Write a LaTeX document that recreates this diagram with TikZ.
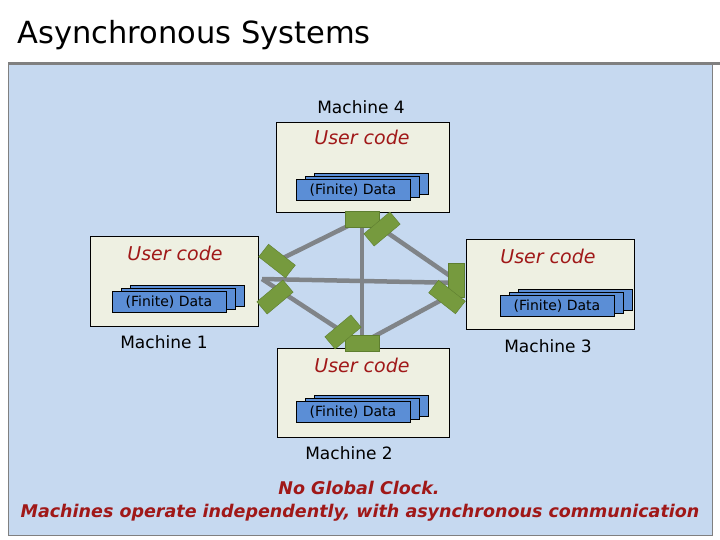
\documentclass[tikz,border=0pt]{standalone}
\usepackage{fontspec}
\setmainfont{DejaVu Sans}
\begin{document}
\begin{tikzpicture}[x=1pt,y=-1pt,
  mbox/.style={draw=black,fill=boxbg,line width=0.8pt},
  ucode/.style={text=ucred,font=\fontsize{19}{22}\selectfont\itshape},
  mlabel/.style={font=\fontsize{17}{20}\selectfont},
  dat/.style={draw=black,fill=datblue,line width=0.8pt,minimum width=114pt,minimum height=21pt,inner sep=0pt},
  port/.style={draw=portdk,fill=portgr,minimum width=34pt,minimum height=16pt,inner sep=0pt},
  link/.style={draw=linkgr,line width=4.5pt}]
\definecolor{panel}{HTML}{C6D9F0}
\definecolor{boxbg}{HTML}{EEF0E2}
\definecolor{ucred}{HTML}{A01818}
\definecolor{datblue}{HTML}{5B8ED6}
\definecolor{portgr}{HTML}{769A3E}
\definecolor{portdk}{HTML}{5E7E30}
\definecolor{linkgr}{HTML}{808488}
\useasboundingbox (0,0) rectangle (720,540);
\fill[white] (0,0) rectangle (720,540);
\node[anchor=west,font=\fontsize{30.5}{34}\selectfont] (title) at (14,35) {Asynchronous Systems};
\fill[panel] (8,65) rectangle (712,535);
\draw[gray,line width=3pt] (8,64) -- (720,64);
\draw[gray,line width=1pt] (8,65) rectangle (712,535);

% machine boxes
\node[mbox,minimum width=173pt,minimum height=90pt,inner sep=0pt] (m4) at (362.5,167) {};
\node[mbox,minimum width=168pt,minimum height=90pt,inner sep=0pt] (m1) at (174,281) {};
\node[mbox,minimum width=168pt,minimum height=90pt,inner sep=0pt] (m3) at (550,284) {};
\node[mbox,minimum width=172pt,minimum height=89pt,inner sep=0pt] (m2) at (363,393) {};

\node[mlabel] (l4) at (361,107) {Machine 4};
\node[mlabel] (l1) at (164,342) {Machine 1};
\node[mlabel] (l3) at (548,346) {Machine 3};
\node[mlabel] (l2) at (349,453) {Machine 2};

\node[ucode] (u4) at (362,137) {User code};
\node[ucode] (u1) at (175,253) {User code};
\node[ucode] (u3) at (548,256) {User code};
\node[ucode] (u2) at (362,365) {User code};

% data stacks
\foreach \n/\x/\y in {d4/353/190, d1/169/302, d3/557/306, d2/353/412}{
  \node[dat] at (\x+18,\y-6) {};
  \node[dat] at (\x+9,\y-3) {};
  \node[dat,font=\fontsize{14}{16}\selectfont] (\n) at (\x,\y) {(Finite) Data};
}

% port coordinates
\coordinate (p4a) at (362,219);
\coordinate (p4b) at (382,229);
\coordinate (p1a) at (277,261);
\coordinate (p1b) at (275,297);
\coordinate (p3a) at (456,280);
\coordinate (p3b) at (447,297);
\coordinate (p2a) at (343,332);
\coordinate (p2b) at (362,343);
\coordinate (h1) at (262,279);
\coordinate (h3) at (462,283);

\draw[link] (p4a) -- (p1a);
\draw[link] (p4a) -- (p2b);
\draw[link] (p4b) -- (p3a);
\draw[link] (h1) -- (h3);
\draw[link] (h1) -- (p2a);
\draw[link] (p2b) -- (p3b);

\node[port] (q4a) at (p4a) {};
\node[port,rotate=40] (q4b) at (p4b) {};
\node[port,rotate=-38] (q1a) at (p1a) {};
\node[port,rotate=40] (q1b) at (p1b) {};
\node[port,rotate=90] (q3a) at (p3a) {};
\node[port,rotate=-38] (q3b) at (p3b) {};
\node[port] (q2b) at (p2b) {};
\node[port,rotate=40] (q2a) at (p2a) {};

\node[text=ucred,font=\fontsize{17.5}{20}\selectfont\bfseries\itshape] (t1) at (359,488) {No Global Clock.};
\node[text=ucred,font=\fontsize{17.5}{20}\selectfont\bfseries\itshape] (t2) at (360,513) {Machines operate independently, with asynchronous communication};
\end{tikzpicture}
\end{document}
